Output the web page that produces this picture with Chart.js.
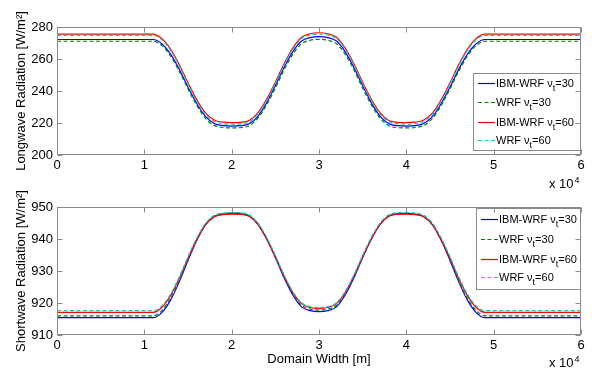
<!DOCTYPE html>
<html>
<head>
<meta charset="utf-8">
<script src="https://cdn.jsdelivr.net/npm/chart.js@4"></script>
<style>
body { margin: 0; background: #fff; }
#wrap { position: relative; width: 592px; height: 375px; }
canvas { position: absolute; left: 0; }
</style>
</head>
<body>
<div id="wrap">
  <canvas id="lw" width="592" height="190" style="top:0px"></canvas>
  <canvas id="sw" width="592" height="185" style="top:190px"></canvas>
</div>
<script>
// domain width in metres (axis shows x 10^4)
const domainWidth = [0, 11000, 12000, 13000, 14000, 15000, 16000, 17000, 18000, 19000, 20000,
  21000, 22000, 23000, 24000, 25000, 26000, 27000, 28000, 29000, 30000,
  31000, 32000, 33000, 34000, 35000, 36000, 37000, 38000, 39000, 40000,
  41000, 42000, 43000, 44000, 45000, 46000, 47000, 48000, 49000, 60000];

// longwave radiation [W/m2]
const lwIbm30 = [272.2, 272.2, 269.5, 263.0, 253.5, 242.4, 232.2, 224.1, 219.7, 218.4, 218.1,
  218.3, 219.5, 224.2, 232.6, 243.3, 254.7, 264.5, 271.2, 273.4, 274.0,
  273.4, 271.2, 264.5, 254.7, 243.3, 232.6, 224.2, 219.5, 218.3, 218.1,
  218.4, 219.7, 224.1, 232.2, 242.4, 253.5, 263.0, 269.5, 272.2, 272.2];
const lwWrf30 = [271.1, 271.1, 268.4, 261.9, 252.4, 241.3, 231.0, 222.9, 218.5, 217.2, 216.9,
  217.1, 218.3, 223.0, 231.3, 241.8, 253.2, 262.9, 269.5, 271.7, 272.3,
  271.7, 269.5, 262.9, 253.2, 241.8, 231.3, 223.0, 218.3, 217.1, 216.9,
  217.2, 218.5, 222.9, 231.0, 241.3, 252.4, 261.9, 268.4, 271.1, 271.1];
const lwIbm60 = [275.6, 275.6, 272.8, 266.2, 256.5, 245.1, 234.6, 226.3, 221.9, 220.5, 220.2,
  220.4, 221.6, 226.4, 234.8, 245.5, 257.0, 266.8, 273.6, 275.8, 276.4,
  275.8, 273.6, 266.8, 257.0, 245.5, 234.8, 226.4, 221.6, 220.4, 220.2,
  220.5, 221.9, 226.3, 234.6, 245.1, 256.5, 266.2, 272.8, 275.6, 275.6];
const lwWrf60 = [274.8, 274.8, 272.0, 265.4, 255.7, 244.3, 233.7, 225.4, 221.0, 219.6, 219.3,
  219.5, 220.7, 225.5, 233.9, 244.6, 256.2, 266.0, 272.8, 275.0, 275.6,
  275.0, 272.8, 266.0, 256.2, 244.6, 233.9, 225.5, 220.7, 219.5, 219.3,
  219.6, 221.0, 225.4, 233.7, 244.3, 255.7, 265.4, 272.0, 274.8, 274.8];

// shortwave radiation [W/m2]
const swIbm30 = [915.4, 915.4, 917.0, 920.9, 926.6, 933.3, 939.5, 944.4, 947.0, 947.8, 948.0,
  947.9, 947.2, 944.6, 940.0, 934.2, 927.9, 922.5, 918.8, 917.6, 917.3,
  917.6, 918.8, 922.5, 927.9, 934.2, 940.0, 944.6, 947.2, 947.9, 948.0,
  947.8, 947.0, 944.4, 939.5, 933.3, 926.6, 920.9, 917.0, 915.4, 915.4];
const swWrf30 = [916.0, 916.0, 917.6, 921.5, 927.1, 933.7, 939.8, 944.6, 947.1, 947.9, 948.1,
  948.0, 947.3, 944.8, 940.2, 934.5, 928.3, 923.0, 919.3, 918.1, 917.8,
  918.1, 919.3, 923.0, 928.3, 934.5, 940.2, 944.8, 947.3, 948.0, 948.1,
  947.9, 947.1, 944.6, 939.8, 933.7, 927.1, 921.5, 917.6, 916.0, 916.0];
const swIbm60 = [917.1, 917.1, 918.6, 922.3, 927.7, 934.0, 939.8, 944.4, 946.9, 947.6, 947.8,
  947.7, 947.1, 944.6, 940.1, 934.5, 928.5, 923.3, 919.8, 918.6, 918.3,
  918.6, 919.8, 923.3, 928.5, 934.5, 940.1, 944.6, 947.1, 947.7, 947.8,
  947.6, 946.9, 944.4, 939.8, 934.0, 927.7, 922.3, 918.6, 917.1, 917.1];
const swWrf60 = [917.6, 917.6, 919.1, 922.8, 928.2, 934.5, 940.3, 944.9, 947.4, 948.1, 948.3,
  948.2, 947.6, 945.0, 940.6, 934.9, 928.8, 923.6, 920.1, 918.9, 918.6,
  918.9, 920.1, 923.6, 928.8, 934.9, 940.6, 945.0, 947.6, 948.2, 948.3,
  948.1, 947.4, 944.9, 940.3, 934.5, 928.2, 922.8, 919.1, 917.6, 917.6];

const seriesNames = ['IBM-WRF', 'WRF', 'IBM-WRF', 'WRF'];
const nuValues = [30, 30, 60, 60];
const xTicks = [0, 1, 2, 3, 4, 5, 6];

const FONT = '"Liberation Sans", Arial, sans-serif';
const FRAME = '#8a8a8a';
const styles = [
  { color: '#0000ff', dash: [] },
  { color: '#008000', dash: [4, 2.5] },
  { color: '#ff0000', dash: [] },
  { color: '#22c0c0', dash: [4, 2.5] }
];

function pts(ys) {
  return domainWidth.map((x, i) => ({ x: x, y: ys[i] }));
}

// box, inward ticks, legend and the "x 10^4" note, matlab style
const matlabAxes = {
  id: 'matlabAxes',
  afterDraw(chart) {
    const { ctx, chartArea: a, scales: { x, y } } = chart;
    const o = chart.options.plugins.matlabAxes;
    ctx.save();

    // legend
    const lg = o.legend;
    ctx.fillStyle = '#fff';
    ctx.fillRect(lg.x, lg.y, lg.w, lg.h);
    ctx.strokeStyle = FRAME;
    ctx.lineWidth = 1;
    ctx.strokeRect(lg.x + 0.5, lg.y + 0.5, lg.w, lg.h);
    chart.data.datasets.forEach((ds, i) => {
      const ry = lg.rows[i];
      ctx.strokeStyle = ds.borderColor;
      ctx.setLineDash(ds.borderDash);
      ctx.lineWidth = 1.2;
      ctx.beginPath();
      ctx.moveTo(lg.x + 5, ry + 0.5);
      ctx.lineTo(lg.x + 22, ry + 0.5);
      ctx.stroke();
      ctx.setLineDash([]);
      ctx.fillStyle = '#000';
      ctx.textBaseline = 'alphabetic';
      ctx.textAlign = 'left';
      let tx = lg.x + 23;
      const main = seriesNames[i] + ' \u03bd';
      ctx.font = '11px ' + FONT;
      ctx.fillText(main, tx, ry + 4);
      tx += ctx.measureText(main).width;
      ctx.font = '9px ' + FONT;
      ctx.fillText('t', tx, ry + 8);
      tx += ctx.measureText('t').width;
      ctx.font = '11px ' + FONT;
      ctx.fillText('=' + nuValues[i], tx, ry + 4);
    });

    // frame
    ctx.strokeStyle = FRAME;
    ctx.lineWidth = 1;
    const l = Math.round(a.left) + 0.5, r = Math.round(a.right) - 0.5;
    const t = Math.round(a.top) + 0.5, b = Math.round(a.bottom) - 0.5;
    ctx.strokeRect(l, t, r - l, b - t);
    ctx.beginPath();
    x.ticks.forEach(tk => {
      const px = Math.round(x.getPixelForValue(tk.value)) + 0.5;
      ctx.moveTo(px, b); ctx.lineTo(px, b - 5);
      ctx.moveTo(px, t); ctx.lineTo(px, t + 5);
    });
    y.ticks.forEach(tk => {
      const py = Math.round(y.getPixelForValue(tk.value)) + 0.5;
      ctx.moveTo(l, py); ctx.lineTo(l + 5, py);
      ctx.moveTo(r, py); ctx.lineTo(r - 5, py);
    });
    ctx.stroke();

    // exponent note
    ctx.fillStyle = '#000';
    ctx.textAlign = 'left';
    ctx.textBaseline = 'alphabetic';
    ctx.font = '13px ' + FONT;
    const ex = a.right - 32;
    ctx.fillText('x 10', ex, o.expY);
    const w = ctx.measureText('x 10').width;
    ctx.font = '9px ' + FONT;
    ctx.fillText('4', ex + w + 1, o.expY - 5);
    ctx.restore();
  }
};

function makeChart(id, series, yMin, yMax, yStep, yTitle, xTitle, padTop, xHeight, plug) {
  return new Chart(document.getElementById(id), {
    type: 'line',
    data: {
      datasets: series.map((ys, i) => ({
        data: pts(ys),
        borderColor: styles[i].color,
        borderDash: styles[i].dash,
        borderWidth: 1.2,
        pointRadius: 0,
        cubicInterpolationMode: 'monotone',
        fill: false,
        order: 4 - i
      }))
    },
    options: {
      responsive: false,
      animation: false,
      devicePixelRatio: 1,
      layout: { padding: { top: padTop, right: 11, left: 0, bottom: 0 } },
      plugins: { legend: { display: false }, tooltip: { enabled: false }, matlabAxes: plug },
      scales: {
        x: {
          type: 'linear', min: 0, max: 60000,
          afterBuildTicks: s => { s.ticks = xTicks.map(v => ({ value: v * 10000 })); },
          ticks: { callback: v => String(v / 10000), color: '#000', font: { family: FONT, size: 13 }, padding: 3, maxRotation: 0 },
          grid: { display: false, drawTicks: false },
          border: { display: false },
          title: { display: !!xTitle, text: xTitle, color: '#000', font: { family: FONT, size: 13 }, padding: { top: 0, bottom: 8 } },
          afterFit: s => { s.height = xHeight; }
        },
        y: {
          min: yMin, max: yMax,
          ticks: { stepSize: yStep, color: '#000', font: { family: FONT, size: 13 }, padding: 4 },
          grid: { display: false, drawTicks: false },
          border: { display: false },
          title: { display: true, text: yTitle, color: '#000', font: { family: FONT, size: 13 }, padding: { top: 14, bottom: 0 } },
          afterFit: s => { s.width = 57; }
        }
      }
    },
    plugins: [matlabAxes]
  });
}

makeChart('lw', [lwIbm30, lwWrf30, lwIbm60, lwWrf60], 200, 280, 20,
  'Longwave Radiation [W/m\u00b2]', '', 27, 35,
  { legend: { x: 473, y: 73, w: 107, h: 77, rows: [83, 102, 122, 140] }, expY: 188 });

makeChart('sw', [swIbm30, swWrf30, swIbm60, swWrf60], 910, 950, 10,
  'Shortwave Radiation [W/m\u00b2]', 'Domain Width [m]', 17, 40,
  { legend: { x: 476, y: 18, w: 104, h: 81, rows: [29, 49, 69, 87] }, expY: 177 });
</script>
</body>
</html>
